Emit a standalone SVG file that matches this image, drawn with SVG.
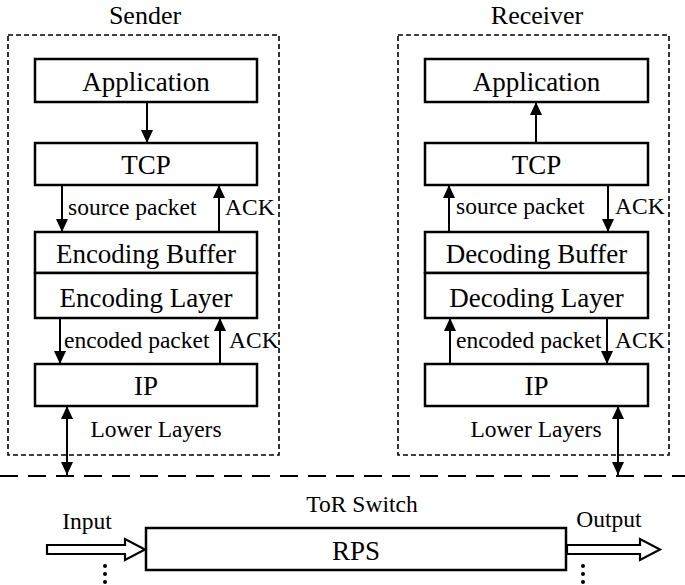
<svg xmlns="http://www.w3.org/2000/svg" width="685" height="585" viewBox="0 0 685 585">
<style>
.box{fill:#fff;stroke:#000;stroke-width:2.5}
.dash{fill:none;stroke:#000;stroke-width:1.6;stroke-dasharray:5,3}
.lbl{font-family:"Liberation Serif",serif;font-size:27px;fill:#000;text-anchor:middle}
.title{font-family:"Liberation Serif",serif;font-size:26px;fill:#000;text-anchor:middle}
.sm{font-family:"Liberation Serif",serif;font-size:23.5px;fill:#000}
.ar{stroke:#000;stroke-width:2;fill:none;marker-end:url(#ah)}
.dar{stroke:#000;stroke-width:2;fill:none;marker-end:url(#ah);marker-start:url(#ah)}
.hollow{fill:#fff;stroke:#000;stroke-width:2.2}
</style>
<defs>
<marker id="ah" viewBox="0 0 13 12" refX="13" refY="6" markerWidth="13" markerHeight="12" markerUnits="userSpaceOnUse" orient="auto-start-reverse">
<path d="M0,0 L13,6 L0,12 z" fill="#000"/>
</marker>
</defs>

<text class="title" x="145" y="24">Sender</text>
<text class="title" x="537" y="24">Receiver</text>

<g id="sender-frame"><rect class="dash" x="8" y="35" width="271" height="420"/></g>
<g id="receiver-frame"><rect class="dash" x="398" y="35" width="271" height="420"/></g>

<g id="s-app"><rect class="box" x="35" y="59" width="222" height="43"/><text class="lbl" x="146" y="91">Application</text></g>
<g id="s-tcp"><rect class="box" x="35" y="143" width="222" height="42"/><text class="lbl" x="146" y="174">TCP</text></g>
<g id="s-buf"><rect class="box" x="35" y="232" width="222" height="41"/><text class="lbl" x="146" y="263">Encoding Buffer</text></g>
<g id="s-layer"><rect class="box" x="35" y="273" width="222" height="45"/><text class="lbl" x="146" y="307">Encoding Layer</text></g>
<g id="s-ip"><rect class="box" x="35" y="364" width="222" height="42"/><text class="lbl" x="146" y="395">IP</text></g>

<g id="r-app"><rect class="box" x="425" y="59" width="223" height="43"/><text class="lbl" x="536.5" y="91">Application</text></g>
<g id="r-tcp"><rect class="box" x="425" y="143" width="223" height="42"/><text class="lbl" x="536.5" y="174">TCP</text></g>
<g id="r-buf"><rect class="box" x="425" y="232" width="223" height="41"/><text class="lbl" x="536.5" y="263">Decoding Buffer</text></g>
<g id="r-layer"><rect class="box" x="425" y="273" width="223" height="45"/><text class="lbl" x="536.5" y="307">Decoding Layer</text></g>
<g id="r-ip"><rect class="box" x="425" y="364" width="223" height="42"/><text class="lbl" x="536.5" y="395">IP</text></g>

<g id="rps"><rect class="box" x="146" y="528" width="420" height="42"/><text class="lbl" x="356" y="560">RPS</text></g>

<g id="connectors">
<line class="ar" x1="147" y1="102" x2="147" y2="143"/>
<line class="ar" x1="62" y1="185" x2="62" y2="232"/>
<line class="ar" x1="219" y1="232" x2="219" y2="185"/>
<line class="ar" x1="60" y1="318" x2="60" y2="364"/>
<line class="ar" x1="220" y1="364" x2="220" y2="318"/>
<line class="dar" x1="67" y1="406" x2="67" y2="475"/>

<line class="ar" x1="536" y1="143" x2="536" y2="102"/>
<line class="ar" x1="449" y1="232" x2="449" y2="185"/>
<line class="ar" x1="608" y1="185" x2="608" y2="232"/>
<line class="ar" x1="450" y1="364" x2="450" y2="318"/>
<line class="ar" x1="607" y1="318" x2="607" y2="364"/>
<line class="dar" x1="618" y1="406" x2="618" y2="475"/>

<line x1="0" y1="476" x2="685" y2="476" stroke="#000" stroke-width="2" stroke-dasharray="18,10"/>

<path class="hollow" d="M47,545 L125,545 L125,539 L145,549.5 L125,560 L125,554 L47,554 z"/>
<path class="hollow" d="M567,545 L640,545 L640,539 L660,549.5 L640,560 L640,554 L567,554 z"/>
</g>

<text class="sm" x="68" y="215">source packet</text>
<text class="sm" x="225" y="215">ACK</text>
<text class="sm" x="64" y="348">encoded packet</text>
<text class="sm" x="229" y="348">ACK</text>
<text class="sm" x="156" y="437" text-anchor="middle">Lower Layers</text>

<text class="sm" x="456" y="214">source packet</text>
<text class="sm" x="615" y="214">ACK</text>
<text class="sm" x="456" y="348">encoded packet</text>
<text class="sm" x="615" y="348">ACK</text>
<text class="sm" x="536" y="437" text-anchor="middle">Lower Layers</text>

<text class="sm" x="362" y="512" text-anchor="middle" font-size="24">ToR Switch</text>
<text class="sm" x="87" y="529" text-anchor="middle">Input</text>
<text class="sm" x="609" y="527" text-anchor="middle">Output</text>

<g fill="#000">
<circle cx="105" cy="566" r="2"/><circle cx="105" cy="574" r="2"/><circle cx="105" cy="582" r="2"/>
<circle cx="583" cy="566" r="2"/><circle cx="583" cy="574" r="2"/><circle cx="583" cy="582" r="2"/>
</g>
</svg>
